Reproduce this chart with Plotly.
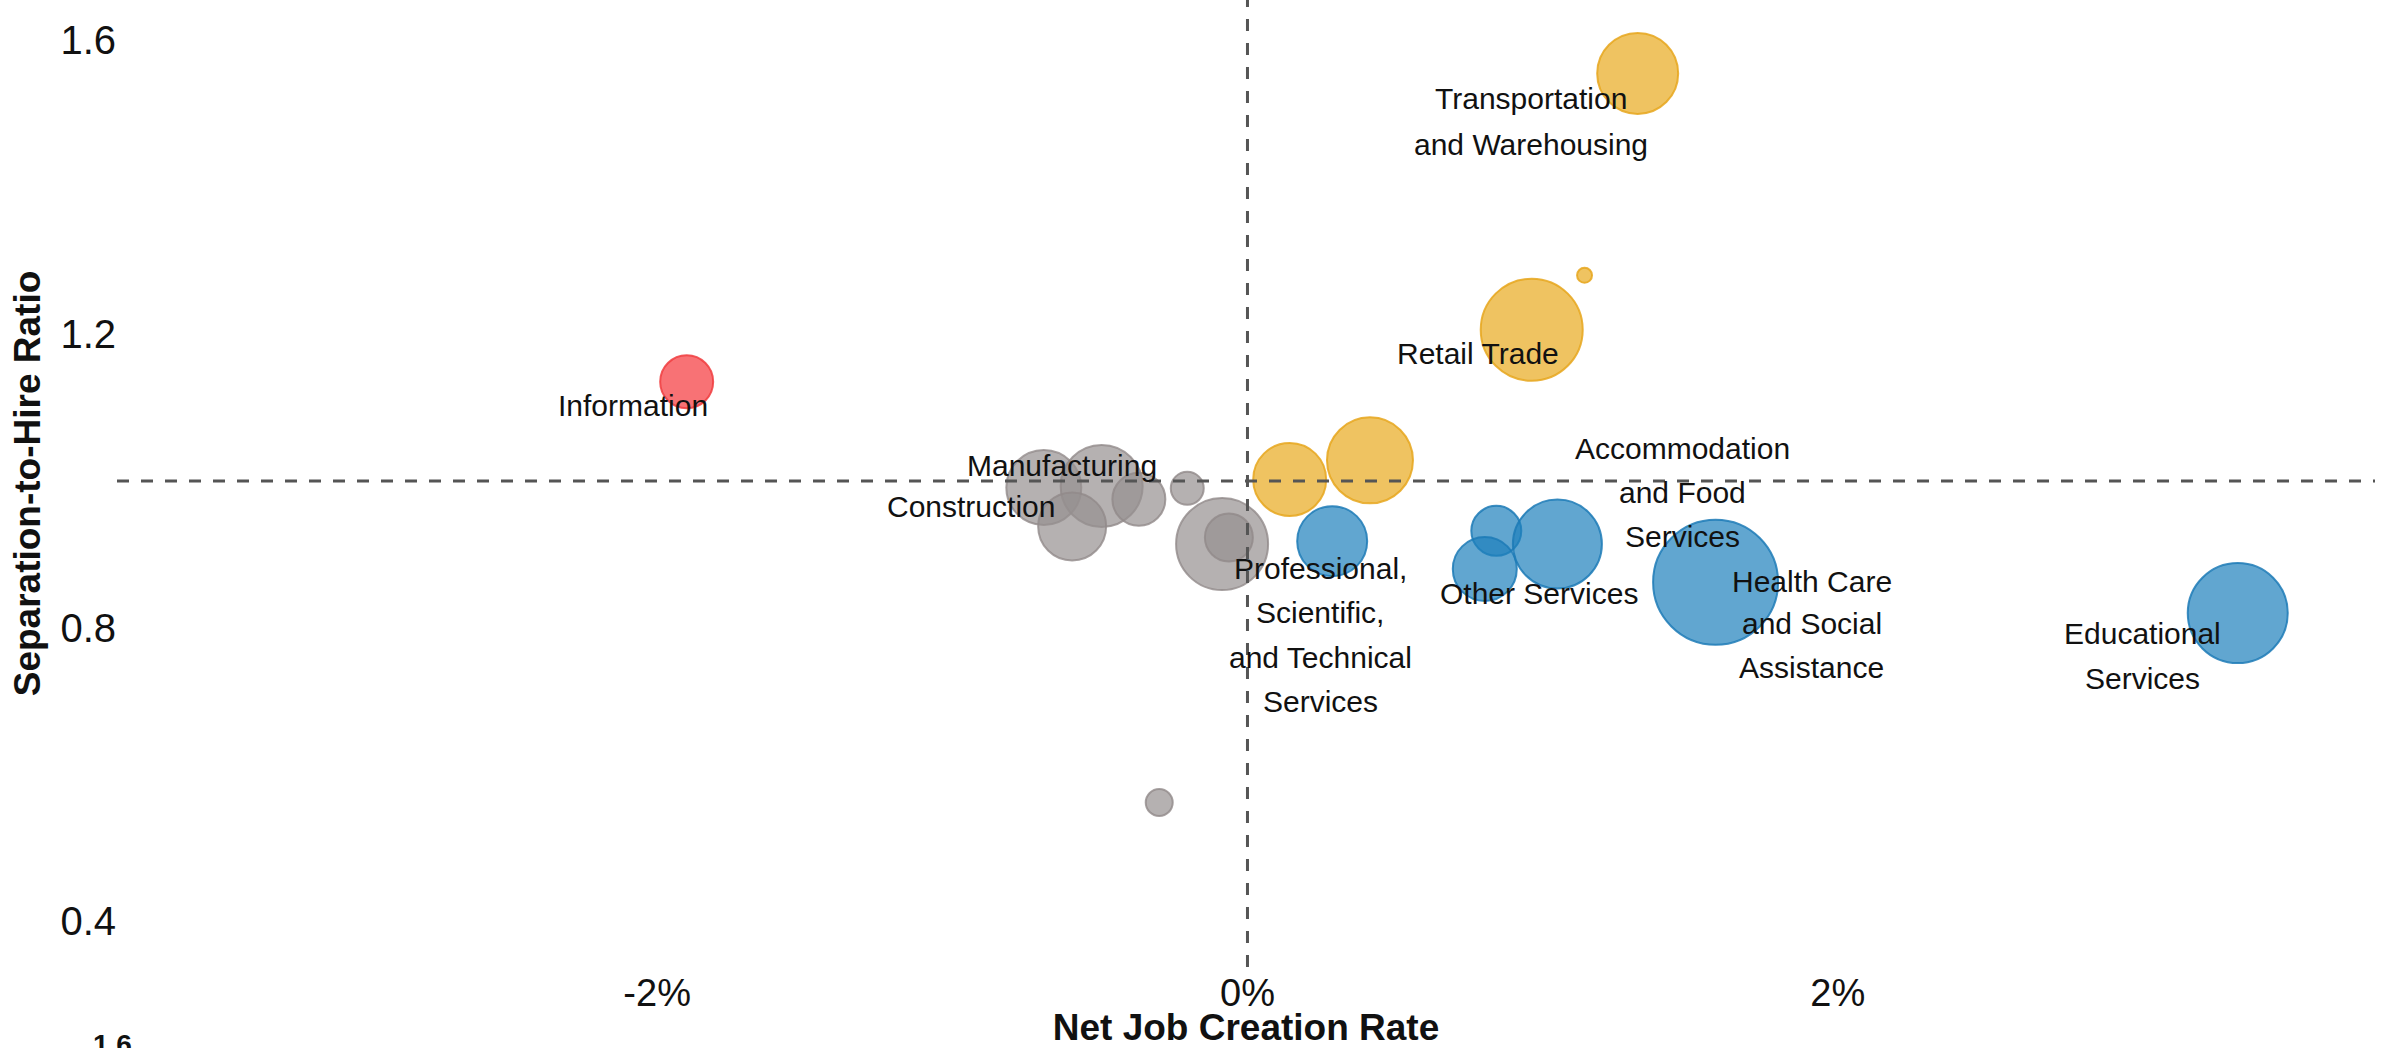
import plotly.graph_objects as go

# ---------------- data ----------------
industries = [
    "Information", "Construction", "Manufacturing", "", "", "", "", "", "",
    "", "", "Retail Trade", "", "Transportation and Warehousing",
    "Professional, Scientific, and Technical Services", "", "Other Services",
    "Accommodation and Food Services", "Health Care and Social Assistance",
    "Educational Services",
]
net_job_creation = [-1.90, -0.69, -0.494, -0.594, -0.368, -0.204, -0.086, -0.063, -0.299,
                    0.143, 0.415, 0.963, 1.142, 1.322,
                    0.287, 0.843, 0.804, 1.05, 1.586, 3.355]
sep_hire_ratio = [1.135, 0.991, 0.993, 0.938, 0.975, 0.990, 0.914, 0.923, 0.562,
                  1.002, 1.028, 1.206, 1.280, 1.555,
                  0.918, 0.932, 0.880, 0.914, 0.862, 0.820]
bubble_weight = [53, 75, 82, 68, 53, 33, 92, 48, 27,
                 73, 86, 102, 15, 81,
                 70, 50, 64, 89, 125, 100]
group = ["red", "gray", "gray", "gray", "gray", "gray", "gray", "gray", "gray",
         "gold", "gold", "gold", "gold", "gold",
         "blue", "blue", "blue", "blue", "blue", "blue"]

x_ticks = [-2, 0, 2]
y_ticks = [0.4, 0.8, 1.2, 1.6]

# ---------------- styles ----------------
fills = {"red": "rgba(245,54,58,0.70)", "gray": "rgba(150,144,144,0.70)",
         "gold": "rgba(232,170,30,0.70)", "blue": "rgba(30,128,188,0.70)"}
edges = {"red": "rgba(240,60,62,0.85)", "gray": "rgba(145,138,138,0.80)",
         "gold": "rgba(230,166,28,0.85)", "blue": "rgba(28,122,182,0.85)"}

# label lines: (text, dx px, dy px downward) relative to bubble centre
label_lines = {
    "Information": [("Information", -54, 24)],
    "Construction": [("Construction", -73, 19)],
    "Manufacturing": [("Manufacturing", -40, -21)],
    "Retail Trade": [("Retail Trade", -54, 24)],
    "Transportation and Warehousing": [("Transportation", -107, 25), ("and Warehousing", -107, 71)],
    "Professional, Scientific, and Technical Services": [
        ("Professional,", -12, 27), ("Scientific,", -12, 71),
        ("and Technical", -12, 116), ("Services", -12, 160)],
    "Other Services": [("Other Services", 54, 24)],
    "Accommodation and Food Services": [("Accommodation", 125, -96), ("and Food", 125, -52),
                                        ("Services", 125, -8)],
    "Health Care and Social Assistance": [("Health Care", 96, -1), ("and Social", 96, 41),
                                          ("Assistance", 96, 85)],
    "Educational Services": [("Educational", -95, 20), ("Services", -95, 65)],
}

FONT = "Liberation Sans, Arial, Helvetica, sans-serif"
INK = "#111111"

fig = go.Figure()
fig.add_trace(go.Scatter(
    x=net_job_creation, y=sep_hire_ratio, mode="markers",
    text=industries, hoverinfo="text+x+y",
    marker=dict(size=bubble_weight, sizemode="diameter", opacity=1,
                color=[fills[g] for g in group],
                line=dict(color=[edges[g] for g in group], width=2)),
    showlegend=False,
))

annotations = []
for name, xv, yv in zip(industries, net_job_creation, sep_hire_ratio):
    for txt, dx, dy in label_lines.get(name, []):
        annotations.append(dict(
            x=xv, y=yv, xref="x", yref="y", text=txt, showarrow=False,
            xshift=dx, yshift=-dy, xanchor="center", yanchor="middle",
            font=dict(family=FONT, size=30, color=INK)))

# stray tick label of a chart below (cut off at the bottom edge)
annotations.append(dict(x=-0.0018, y=-0.062, xref="paper", yref="paper", text="<b>1.6</b>",
                        showarrow=False, xanchor="center", yanchor="top",
                        font=dict(family=FONT, size=28, color=INK)))

fig.update_layout(
    width=2385, height=1048,
    margin=dict(l=117, r=10, t=0, b=78),
    paper_bgcolor="white", plot_bgcolor="white",
    font=dict(family=FONT, color=INK),
    annotations=annotations,
    shapes=[
        dict(type="line", xref="paper", yref="y", x0=0, x1=1, y0=1.0, y1=1.0,
             line=dict(color="#555555", width=3, dash="12px,12px"), layer="above"),
        dict(type="line", xref="x", yref="paper", x0=0, x1=0, y0=0, y1=1,
             line=dict(color="#555555", width=3, dash="12px,12px"), layer="above"),
    ],
    xaxis=dict(range=[-3.83, 3.82], tickvals=x_ticks, ticktext=[f"{v}%" for v in x_ticks],
               showgrid=False, zeroline=False, showline=False, ticks="",
               tickfont=dict(size=38, family=FONT, color=INK),
               title=dict(text="<b>Net Job Creation Rate</b>", standoff=8,
                          font=dict(size=37, family=FONT, color=INK))),
    yaxis=dict(range=[0.338, 1.655], tickvals=y_ticks, ticktext=[f"{v:.1f}" for v in y_ticks],
               showgrid=False, zeroline=False, showline=False, ticks="",
               tickfont=dict(size=40, family=FONT, color=INK),
               title=dict(text="<b>Separation-to-Hire Ratio</b>", standoff=8,
                          font=dict(size=37, family=FONT, color=INK))),
)

fig.write_html("out.html", config={"displayModeBar": False},
               post_script="document.body.style.margin='0px';")
